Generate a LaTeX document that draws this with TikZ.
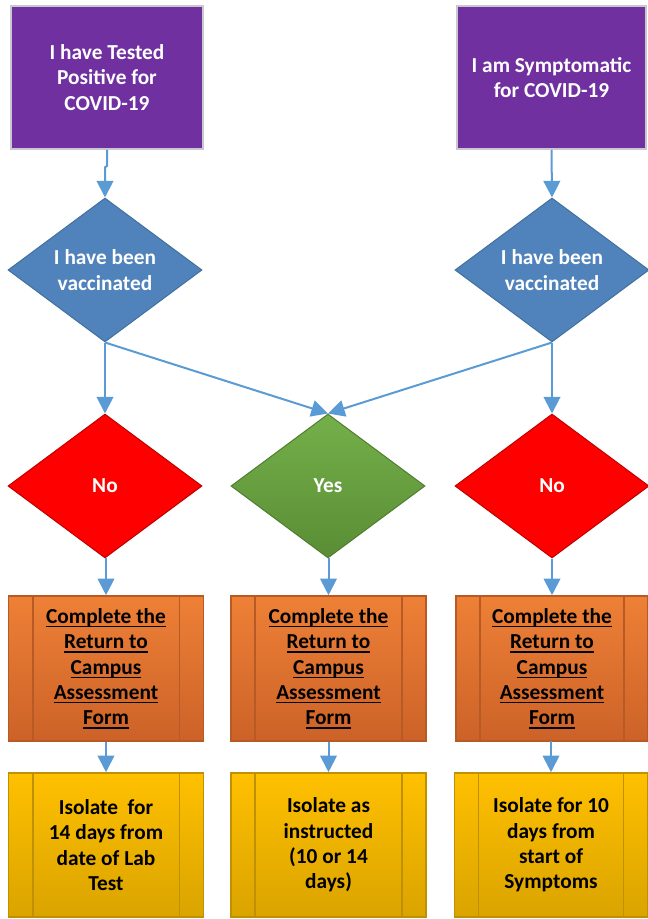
\documentclass[tikz,border=0pt]{standalone}
\usepackage{fontspec}
\setmainfont{Carlito}
\usetikzlibrary{shapes.geometric,arrows.meta}
\definecolor{purp}{HTML}{7030A0}
\definecolor{boxgrey}{HTML}{C8C8D0}
\definecolor{diablue}{HTML}{5082BB}
\definecolor{diablueB}{HTML}{41719C}
\definecolor{arrblue}{HTML}{5B9BD5}
\definecolor{redf}{HTML}{FF0000}
\definecolor{redB}{HTML}{C00000}
\definecolor{greenT}{HTML}{74B04A}
\definecolor{greenB}{HTML}{5A8D35}
\definecolor{greenD}{HTML}{507D30}
\definecolor{orT}{HTML}{EE8036}
\definecolor{orB}{HTML}{CC6228}
\definecolor{orD}{HTML}{B85A26}
\definecolor{yeT}{HTML}{FFC000}
\definecolor{yeB}{HTML}{DAA400}
\definecolor{yeD}{HTML}{BF9000}
\newcommand\ulx[1]{\setbox0\hbox{#1}\rlap{\rule[-2.8pt]{\wd0}{0.95pt}}\box0}
\tikzset{
  txt/.style={font=\fontsize{16}{19}\selectfont\bfseries, align=center},
  purplebox/.style={rectangle, draw=boxgrey, line width=1.5pt, fill=purp, text=white,
    minimum width=144pt, minimum height=107.25pt, inner sep=0pt, txt},
  dia/.style={diamond, minimum width=145.5pt, minimum height=108pt, inner sep=0pt, line width=0.75pt},
  bluedia/.style={dia, fill=diablue, draw=diablueB, label={[txt, text=white]center:#1}},
  reddia/.style={dia, fill=redf, draw=redB, label={[txt, text=white]center:#1}},
  greendia/.style={dia, top color=greenT, bottom color=greenB, draw=greenD, label={[txt, text=white]center:#1}},
  orbox/.style={rectangle, minimum width=146.25pt, minimum height=108.75pt, inner sep=0pt, txt,
    line width=1.2pt, top color=orT, bottom color=orB, draw=orD, text=black},
  yebox/.style={rectangle, minimum width=146.25pt, minimum height=108pt, inner sep=0pt, txt,
    line width=1.2pt, top color=yeT, bottom color=yeB, draw=yeD, text=black},
  arr/.style={draw=arrblue, line width=1.5pt, -{Triangle[length=12.5pt,width=12.5pt]}},
}
\begin{document}
\begin{tikzpicture}[x=0.75pt,y=-0.75pt]
\useasboundingbox (0,0) rectangle (648,919);

% top boxes
\node[purplebox] (P1) at (107,77.5) {I have Tested\\Positive for\\COVID-19};
\node[purplebox, minimum width=142pt] (P2) at (551.5,77.5) {I am Symptomatic\\for COVID-19};

% vaccinated diamonds
\node[bluedia={I have been\\vaccinated}] (V1) at (105,270) {};
\node[bluedia={I have been\\vaccinated}] (V2) at (552,270) {};

% answer diamonds
\node[reddia={No}] (N1) at (105,486) {};
\node[greendia={Yes}] (Y) at (328,486) {};
\node[reddia={No}] (N2) at (552,486) {};

% orange process boxes
\newcommand\formtext{\ulx{Complete the}\\\ulx{Return to}\\\ulx{Campus}\\\ulx{Assessment}\\\ulx{Form}}
\node[orbox] (O1) at (106,668.5) {\formtext};
\node[orbox] (O2) at (328.5,668.5) {\formtext};
\node[orbox, minimum width=144pt] (O3) at (552,668.5) {\formtext};

% yellow process boxes
\node[yebox] (Y1) at (106,845) {Isolate~~for\\14 days from\\date of Lab\\Test};
\node[yebox] (Y2) at (328.5,845) {Isolate as\\instructed\\(10 or 14\\days)};
\node[yebox, minimum width=145pt] (Y3) at (551,845) {Isolate for 10\\days from\\start of\\Symptoms};

% inner lines of process boxes
\foreach \n/\c in {O1/orD,O2/orD,O3/orD,Y1/yeD,Y2/yeD,Y3/yeD}{
  \draw[\c, line width=1.2pt] ([xshift=18.75pt]\n.north west) -- ([xshift=18.75pt]\n.south west);
  \draw[\c, line width=1.2pt] ([xshift=-18.75pt]\n.north east) -- ([xshift=-18.75pt]\n.south east);
}

% connectors
\draw[arr] (P1.south) -- ++(0,16) -- ([yshift=-13pt]V1.north |- P1.south) -- (V1.north);
\draw[arr] (P2.south) -- (V2.north);
\draw[arr] (V1.south) -- (N1.north);
\draw[arr] (V1.south) -- (Y.north);
\draw[arr] (V2.south) -- (Y.north);
\draw[arr] (V2.south) -- (N2.north);
\draw[arr] (N1.south) -- (N1.south -| O1.north) -- (O1.north);
\draw[arr] (Y.south) -- (Y.south -| O2.north) -- (O2.north);
\draw[arr] (N2.south) -- (O3.north);
\draw[arr] (O1.south) -- (Y1.north);
\draw[arr] (O2.south) -- (Y2.north);
\draw[arr] (O3.south) -- (O3.south -| Y3.north) -- (Y3.north);
\end{tikzpicture}
\end{document}
